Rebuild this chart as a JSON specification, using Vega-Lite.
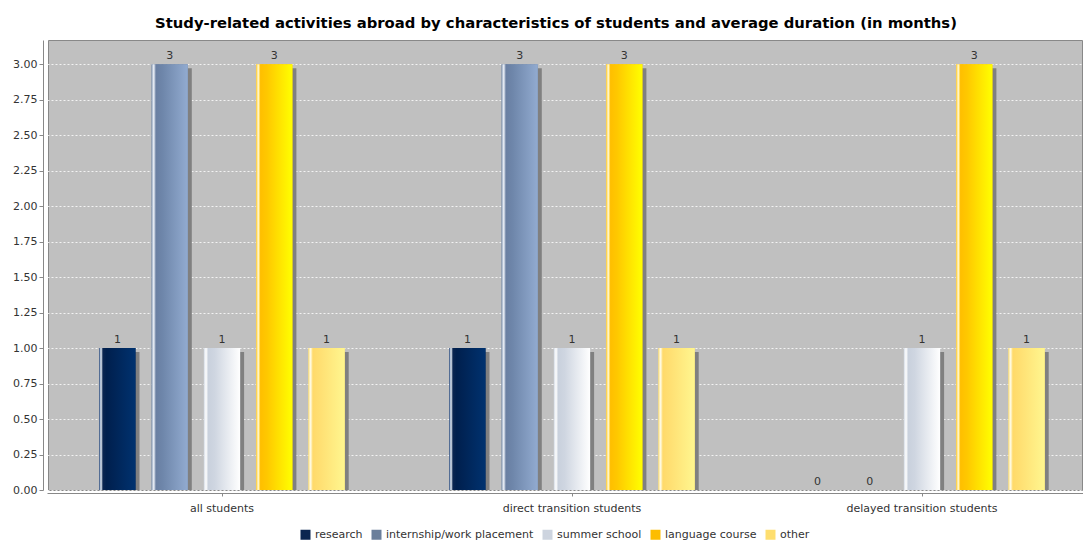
{
  "$schema": "https://vega.github.io/schema/vega-lite/v6.json",
  "autosize": {"type": "none"},
  "width": 1034,
  "height": 450,
  "padding": {"left": 48, "top": 40, "right": 1, "bottom": 52},
  "background": "#ffffff",
  "config": {
    "font": "DejaVu Sans",
    "view": {"fill": "#c0c0c0", "stroke": "#888888", "strokeWidth": 1},
    "axis": {"labelFont": "DejaVu Sans", "labelFontSize": 11, "labelColor": "#333333", "domainColor": "#888888", "tickColor": "#888888", "titleFontSize": 11}
  },
  "title": {"text": "Study-related activities abroad by characteristics of students and average duration (in months)", "font": "DejaVu Sans", "fontSize": 14.8, "fontWeight": "bold", "color": "#000000", "offset": 9, "dx": -9},
  "data": {"values": [
    {"group": "all students", "activity": "research", "months": 1},
    {"group": "all students", "activity": "internship/work placement", "months": 3},
    {"group": "all students", "activity": "summer school", "months": 1},
    {"group": "all students", "activity": "language course", "months": 3},
    {"group": "all students", "activity": "other", "months": 1},
    {"group": "direct transition students", "activity": "research", "months": 1},
    {"group": "direct transition students", "activity": "internship/work placement", "months": 3},
    {"group": "direct transition students", "activity": "summer school", "months": 1},
    {"group": "direct transition students", "activity": "language course", "months": 3},
    {"group": "direct transition students", "activity": "other", "months": 1},
    {"group": "delayed transition students", "activity": "research", "months": 0},
    {"group": "delayed transition students", "activity": "internship/work placement", "months": 0},
    {"group": "delayed transition students", "activity": "summer school", "months": 1},
    {"group": "delayed transition students", "activity": "language course", "months": 3},
    {"group": "delayed transition students", "activity": "other", "months": 1}
  ]},
  "encoding": {
    "x": {"field": "group", "type": "nominal", "sort": null, "scale": {"type": "band", "range": [-1, 1049], "paddingInner": 0, "paddingOuter": 0},
      "axis": {"title": null, "labelAngle": 0, "offset": 3, "tickSize": 3, "labelPadding": 6, "domainColor": "#888888"}},
    "xOffset": {"field": "activity", "type": "nominal", "scale": {"type": "band", "domain": ["research", "internship/work placement", "summer school", "language course", "other"], "paddingInner": 0.3077, "paddingOuter": 1.019}},
    "y": {"field": "months", "type": "quantitative", "scale": {"domain": [0, 3.17], "nice": false, "zero": true},
      "axis": {"title": null, "values": [0, 0.25, 0.5, 0.75, 1, 1.25, 1.5, 1.75, 2, 2.25, 2.5, 2.75, 3], "format": ".2f", "offset": 5, "tickSize": 4, "gridColor": "#ffffff", "gridDash": [2, 2], "gridOpacity": 0.8, "gridWidth": 1}}
  },
  "resolve": {"scale": {"xOffset": "independent"}},
  "layer": [
    {"mark": {"type": "bar", "color": "#808080", "yOffset": 4, "clip": true},
     "encoding": {"xOffset": {"field": "activity", "type": "nominal", "scale": {"type": "band", "domain": ["research", "internship/work placement", "summer school", "language course", "other"], "range": [4, 354], "paddingInner": 0.3077, "paddingOuter": 1.019}}}},
    {"mark": {"type": "bar"},
     "encoding": {"color": {"field": "activity", "type": "nominal",
       "scale": {"domain": ["research", "internship/work placement", "summer school", "language course", "other"], "range": ["#0b2650", "#6b7f9b", "#cdd4df", "#fdbd00", "#fede6f"]},
       "legend": {"title": null, "orient": "none", "legendX": 252, "legendY": 489, "direction": "horizontal", "symbolType": "square", "symbolSize": 100, "symbolStrokeWidth": 0, "labelFont": "DejaVu Sans", "labelFontSize": 11, "labelColor": "#333333", "columnPadding": 8, "symbolOffset": 0}}}},
    {"transform": [{"filter": "datum.activity === 'research'"}],
     "mark": {"type": "bar", "fill": {"gradient": "linear", "x1": 0, "x2": 1, "y1": 0, "y2": 0, "stops": [{"offset": 0, "color": "#4a6a9a"}, {"offset": 0.05, "color": "#e8eef5"}, {"offset": 0.1, "color": "#0a2550"}, {"offset": 0.2, "color": "#001f4d"}, {"offset": 1, "color": "#00326f"}]}}},
    {"transform": [{"filter": "datum.activity === 'internship/work placement'"}],
     "mark": {"type": "bar", "fill": {"gradient": "linear", "x1": 0, "x2": 1, "y1": 0, "y2": 0, "stops": [{"offset": 0, "color": "#8a9cb8"}, {"offset": 0.06, "color": "#f0f4fa"}, {"offset": 0.12, "color": "#6a7fa2"}, {"offset": 0.3, "color": "#6e86aa"}, {"offset": 1, "color": "#92abd0"}]}}},
    {"transform": [{"filter": "datum.activity === 'summer school'"}],
     "mark": {"type": "bar", "fill": {"gradient": "linear", "x1": 0, "x2": 1, "y1": 0, "y2": 0, "stops": [{"offset": 0, "color": "#d5dce6"}, {"offset": 0.06, "color": "#ffffff"}, {"offset": 0.12, "color": "#c9d1dd"}, {"offset": 0.3, "color": "#cfd6e1"}, {"offset": 1, "color": "#ffffff"}]}}},
    {"transform": [{"filter": "datum.activity === 'language course'"}],
     "mark": {"type": "bar", "fill": {"gradient": "linear", "x1": 0, "x2": 1, "y1": 0, "y2": 0, "stops": [{"offset": 0, "color": "#ffd24a"}, {"offset": 0.06, "color": "#fff8d0"}, {"offset": 0.12, "color": "#ffbf00"}, {"offset": 0.3, "color": "#ffc800"}, {"offset": 1, "color": "#ffff00"}]}}},
    {"transform": [{"filter": "datum.activity === 'other'"}],
     "mark": {"type": "bar", "fill": {"gradient": "linear", "x1": 0, "x2": 1, "y1": 0, "y2": 0, "stops": [{"offset": 0, "color": "#ffe48a"}, {"offset": 0.06, "color": "#fffbe5"}, {"offset": 0.12, "color": "#ffda6a"}, {"offset": 0.3, "color": "#ffdf72"}, {"offset": 1, "color": "#fff68f"}]}}},
    {"mark": {"type": "text", "baseline": "bottom", "dy": -3, "font": "DejaVu Sans", "fontSize": 11, "color": "#333333"},
     "encoding": {"text": {"field": "months", "type": "quantitative", "format": "d"}}}
  ]
}
